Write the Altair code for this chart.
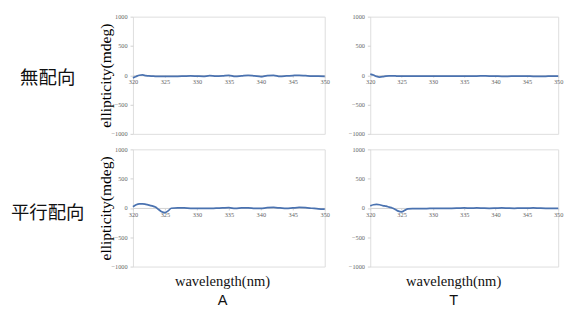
import altair as alt
import pandas as pd

wavelength = [320, 320.5, 321, 321.5, 322, 322.5, 323, 323.5, 324, 324.5, 325, 325.5, 326,
              327, 328, 329, 330, 331, 332, 333, 334, 335, 336, 337, 338,
              339, 340, 341, 342, 343, 344, 345, 346, 347, 348, 349, 350]

none_A = [-45, -20, 0, 5, -5, -12, -15, -18, -20, -20, -20, -20, -20,
          -18, -15, -12, -15, -18, -8, -15, -10, 0, -20, -10, 0,
          -10, -22, -5, 0, -18, -12, -5, 0, -8, -15, -15, -18]
none_T = [20, 5, -20, -30, -25, -15, -10, -10, -12, -15, -15, -15, -15,
          -15, -14, -15, -16, -15, -14, -15, -13, -14, -15, -13, -12,
          -13, -15, -18, -17, -15, -14, -15, -17, -18, -17, -15, -15]
par_A = [20, 55, 70, 70, 62, 50, 35, 15, -25, -65, -80, -50, -5,
         0, 0, -5, -5, -5, -8, -3, 0, 5, -8, 0, 3,
         -5, -8, 5, 8, 0, -8, 0, 8, 5, -5, -15, -20]
par_T = [35, 55, 60, 55, 40, 30, 15, 0, -25, -55, -65, -40, -15,
         -12, -10, -10, -8, -8, -5, -5, -3, 0, -3, 0, -3,
         -5, -3, 0, -3, -5, -3, -3, 0, -3, -5, -5, -5]

x_ticks = [320, 325, 330, 335, 340, 345, 350]
y_ticks = [-1000, -500, 0, 500, 1000]
row_labels = ["無配向", "平行配向"]
col_labels = ["A", "T"]
x_title = "wavelength(nm)"
y_title = "ellipticity(mdeg)"

W_LEFT = 198
W_RIGHT = 194
H = 121
LINE = "#4a72b0"
TICKFONT = "Liberation Serif"
SERIF = "Liberation Serif"


def panel(values, show_ytitle, width):
    df = pd.DataFrame({"wavelength": wavelength, "ellipticity": values})
    yaxis_kwargs = dict(values=y_ticks, format="d", labelFontSize=6.5, labelColor="#666666",
                        labelFont=TICKFONT, tickSize=3, tickColor="#d0d0d0", domain=False,
                        grid=False, labelPadding=3, labelFlush=False)
    if show_ytitle:
        yaxis = alt.Axis(title=y_title, titleFont=SERIF, titleFontSize=16, titleFontWeight="normal",
                         titleColor="#000000", titleX=-20, titleY=H / 2, **yaxis_kwargs)
    else:
        yaxis = alt.Axis(title=None, **yaxis_kwargs)
    return alt.Chart(df).mark_line(color=LINE, strokeWidth=1.8, interpolate="monotone").encode(
        x=alt.X("wavelength:Q", scale=alt.Scale(domain=[320, 350], nice=False, zero=False),
                axis=alt.Axis(values=x_ticks, format="d", offset=-H / 2, title=None,
                              labelFontSize=6.5, labelColor="#666666", labelFont=TICKFONT,
                              tickSize=2, tickColor="#d0d0d0", domainColor="#d0d0d0",
                              grid=False, labelPadding=2, labelFlush=False)),
        y=alt.Y("ellipticity:Q", scale=alt.Scale(domain=[-1000, 1000], nice=False), axis=yaxis),
    ).properties(width=width, height=H)


def row_label(text):
    df = pd.DataFrame({"label": [text]})
    return alt.Chart(df).mark_text(font="Noto Sans CJK JP", fontSize=19, color="#111111").encode(
        text="label:N", x=alt.value(40), y=alt.value(H / 2 + 3)
    ).properties(width=80, height=H, view=alt.ViewBackground(stroke="transparent"))


def col_title(label, dx):
    return alt.TitleParams(text=x_title, subtitle=label, orient="bottom", anchor="middle",
                           font=SERIF, fontSize=15, fontWeight="normal", color="#111111",
                           subtitleFont="Liberation Sans", subtitleFontSize=15, subtitleColor="#111111",
                           subtitlePadding=5, offset=4, dx=dx)


labels_col = alt.vconcat(row_label(row_labels[0]), row_label(row_labels[1]), spacing=16)
col_A = alt.vconcat(panel(none_A, True, W_LEFT), panel(par_A, True, W_LEFT), spacing=8,
                    title=col_title(col_labels[0], 9))
col_T = alt.vconcat(panel(none_T, False, W_RIGHT), panel(par_T, False, W_RIGHT), spacing=8,
                    title=col_title(col_labels[1], -2))

panels = alt.hconcat(col_A, col_T, spacing=17)
chart = alt.hconcat(labels_col, panels, spacing=10).properties(
    padding={"left": 0, "top": 0, "right": 0, "bottom": 0}
).configure_view(stroke="#c5d3e5", strokeWidth=1).configure(background="white")

chart.save("out.html", embed_options={"renderer": "svg", "actions": False})
